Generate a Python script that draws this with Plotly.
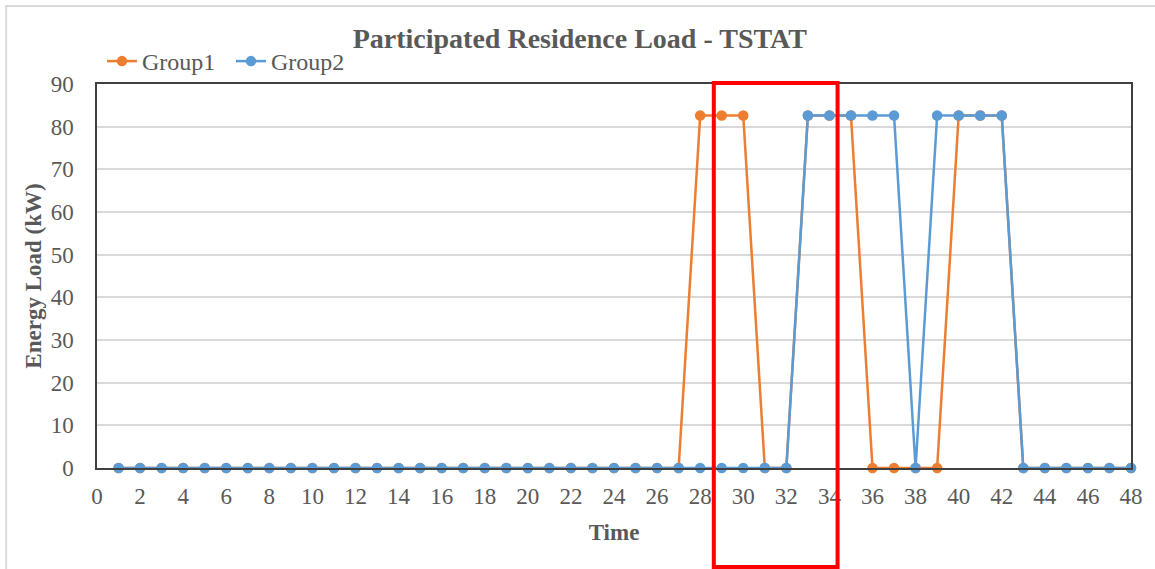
import plotly.graph_objects as go

# Half-hour intervals 1..48
time = list(range(1, 49))

group1 = [0, 0, 0, 0, 0, 0, 0, 0, 0, 0, 0, 0, 0, 0, 0, 0, 0, 0, 0, 0, 0, 0, 0, 0,
          0, 0, 0, 82.6, 82.6, 82.6, 0, 0, 82.6, 82.6, 82.6, 0, 0, 0, 0, 82.6,
          82.6, 82.6, 0, 0, 0, 0, 0, 0]
group2 = [0, 0, 0, 0, 0, 0, 0, 0, 0, 0, 0, 0, 0, 0, 0, 0, 0, 0, 0, 0, 0, 0, 0, 0,
          0, 0, 0, 0, 0, 0, 0, 0, 82.6, 82.6, 82.6, 82.6, 82.6, 0, 82.6, 82.6,
          82.6, 82.6, 0, 0, 0, 0, 0, 0]

x_ticks = list(range(0, 49, 2))
y_ticks = list(range(0, 91, 10))

W, H = 1155, 569
L, R, T, B = 97, 22, 84, 101
pw, ph = W - L - R, H - T - B


def px_x(p):
    return (p - L) / pw


def px_y(p):
    return (H - B - p) / ph


FONT = "Liberation Serif"
TXT = "#595959"

fig = go.Figure()
fig.add_trace(go.Scatter(x=time, y=group1, name="Group1", mode="lines+markers",
                         line=dict(color="#ED7D31", width=2.5),
                         marker=dict(color="#ED7D31", size=10.5), cliponaxis=False))
fig.add_trace(go.Scatter(x=time, y=group2, name="Group2", mode="lines+markers",
                         line=dict(color="#5B9BD5", width=2.5),
                         marker=dict(color="#5B9BD5", size=10.5), cliponaxis=False))

# outer chart border
fig.add_shape(type="rect", xref="paper", yref="paper",
              x0=px_x(6), x1=px_x(1170), y0=px_y(600), y1=px_y(6),
              line=dict(color="#D9D9D9", width=2), layer="below")
# highlighted window
fig.add_shape(type="rect", xref="paper", yref="paper",
              x0=px_x(715), x1=px_x(839), y0=px_y(567), y1=px_y(83),
              line=dict(color="#FF0000", width=4))

fig.update_layout(
    width=W, height=H,
    margin=dict(l=L, r=R, t=T, b=B),
    paper_bgcolor="white", plot_bgcolor="white",
    font=dict(family=FONT, size=24, color=TXT),
    title=dict(text="<b>Participated Residence Load - TSTAT</b>",
               font=dict(family=FONT, size=28, color=TXT),
               x=0.502, xref="container", xanchor="center",
               y=1 - 38 / H, yref="container", yanchor="middle"),
    legend=dict(orientation="h", x=px_x(102), xanchor="left",
                y=px_y(39), yanchor="top",
                font=dict(family=FONT, size=24, color=TXT),
                bgcolor="rgba(0,0,0,0)",
                entrywidth=84, entrywidthmode="pixels"),
    showlegend=True,
    xaxis=dict(range=[0, 48], tickvals=x_ticks, ticktext=[str(v) for v in x_ticks],
               showgrid=False, zeroline=False, showline=True, mirror=True,
               linecolor="#404040", linewidth=1.5, ticks="",
               ticklabelstandoff=7,
               tickfont=dict(family=FONT, size=23, color=TXT),
               title=dict(text="<b>Time</b>", standoff=16,
                          font=dict(family=FONT, size=23, color=TXT))),
    yaxis=dict(range=[0, 90], tickvals=y_ticks,
               showgrid=True, gridcolor="#D9D9D9", gridwidth=1.5,
               zeroline=False, showline=True, mirror=True,
               linecolor="#404040", linewidth=1.5, ticks="",
               ticklabelstandoff=17,
               tickfont=dict(family=FONT, size=23, color=TXT),
               title=dict(text="<b>Energy Load (kW)</b>", standoff=3,
                          font=dict(family=FONT, size=23, color=TXT))),
)

fig.write_html("out.html")
